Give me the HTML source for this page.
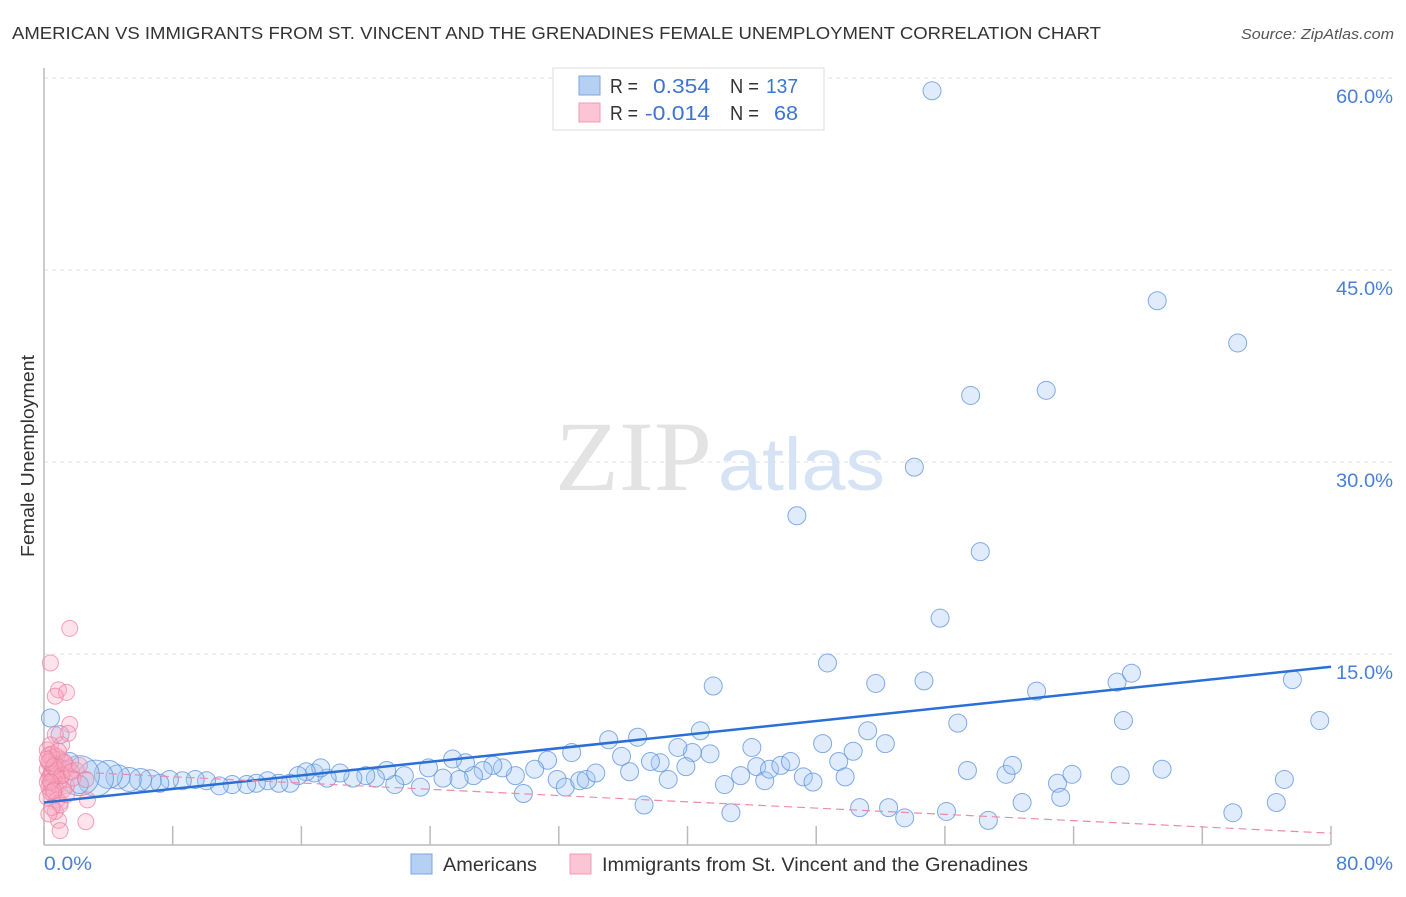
<!DOCTYPE html>
<html><head><meta charset="utf-8"><style>
body{margin:0;background:#fff;font-family:"Liberation Sans",sans-serif;}
</style></head><body>
<svg width="1406" height="892" viewBox="0 0 1406 892" xmlns="http://www.w3.org/2000/svg">
<text x="12" y="39" font-size="17.5" fill="#333" textLength="1089" lengthAdjust="spacingAndGlyphs">AMERICAN VS IMMIGRANTS FROM ST. VINCENT AND THE GRENADINES FEMALE UNEMPLOYMENT CORRELATION CHART</text>
<text x="1241" y="39" font-size="15" fill="#555" font-style="italic" textLength="153" lengthAdjust="spacingAndGlyphs">Source: ZipAtlas.com</text>
<g id="grid"></g>
<g>
<text x="555" y="490" font-size="100" fill="#e3e3e3" font-family="Liberation Serif" textLength="157" lengthAdjust="spacingAndGlyphs">ZIP</text>
<text x="718" y="490" font-size="74" fill="#d5e3f5" textLength="167" lengthAdjust="spacingAndGlyphs">atlas</text>
</g>
<line x1="44" y1="68" x2="44" y2="845" stroke="#bbb" stroke-width="1.5"/>
<line x1="44" y1="845" x2="1330" y2="845" stroke="#bbb" stroke-width="1.5"/>
<g id="ticks"></g>
<g id="pts"></g>
<g id="lines"></g>
<text x="34" y="456" font-size="18" fill="#333" transform="rotate(-90 34 456)" text-anchor="middle" textLength="202" lengthAdjust="spacingAndGlyphs">Female Unemployment</text>
<text x="44" y="870" font-size="19" fill="#4a7fd6" textLength="48" lengthAdjust="spacingAndGlyphs">0.0%</text>
<text x="1336" y="870" font-size="19" fill="#4a7fd6" textLength="57" lengthAdjust="spacingAndGlyphs">80.0%</text>
<g>
<rect x="553" y="68" width="271" height="62" fill="#fff" stroke="#ddd"/>
<rect x="579" y="76" width="21" height="19" fill="#b5d0f3" stroke="#7aa6e3"/>
<rect x="579" y="103" width="21" height="19" fill="#fbc5d5" stroke="#f09ab3"/>
<text x="610" y="93" font-size="20" fill="#333" textLength="28" lengthAdjust="spacingAndGlyphs">R =</text>
<text x="653" y="93" font-size="20" fill="#3a74d4" textLength="57" lengthAdjust="spacingAndGlyphs">0.354</text>
<text x="730" y="93" font-size="20" fill="#333" textLength="29" lengthAdjust="spacingAndGlyphs">N =</text>
<text x="766" y="93" font-size="20" fill="#3a74d4" textLength="32" lengthAdjust="spacingAndGlyphs">137</text>
<text x="610" y="120" font-size="20" fill="#333" textLength="28" lengthAdjust="spacingAndGlyphs">R =</text>
<text x="645" y="120" font-size="20" fill="#3a74d4" textLength="65" lengthAdjust="spacingAndGlyphs">-0.014</text>
<text x="730" y="120" font-size="20" fill="#333" textLength="29" lengthAdjust="spacingAndGlyphs">N =</text>
<text x="774" y="120" font-size="20" fill="#3a74d4" textLength="24" lengthAdjust="spacingAndGlyphs">68</text>
</g>
<g>
<rect x="411" y="854" width="21" height="20" fill="#b5d0f3" stroke="#7aa6e3"/>
<text x="443" y="871" font-size="19" fill="#333" textLength="94" lengthAdjust="spacingAndGlyphs">Americans</text>
<rect x="570" y="854" width="21" height="20" fill="#fbc5d5" stroke="#f09ab3"/>
<text x="602" y="871" font-size="19" fill="#333" textLength="426" lengthAdjust="spacingAndGlyphs">Immigrants from St. Vincent and the Grenadines</text>
</g>
</svg>
<script>
const yTicks=[15,30,45,60];
const yTickLabels=["15.0%","30.0%","45.0%","60.0%"];
const xTicks=[0,8,16,24,32,40,48,56,64,72,80];
const blueX=[55.2,69.2,74.2,57.6,62.3,54.1,46.8,58.2,55.7,48.7,41.6,51.7,54.7,61.7,66.7,67.6,77.6,79.3,67.1,56.8,51.2,52.3,48.4,50.3,49.4,49.8,44.0,40.8,41.4,40.3,39.4,39.9,38.3,37.7,38.8,36.9,35.1,35.9,36.4,37.3,32.8,31.3,30.5,31.9,32.4,33.3,33.7,34.3,29.8,29.3,28.5,27.9,27.3,26.7,25.8,26.2,25.4,24.8,23.9,23.4,22.4,21.8,21.3,20.6,20.0,19.2,18.4,17.6,16.8,17.2,16.3,15.8,15.3,14.6,13.9,13.2,12.6,11.7,10.9,10.1,9.4,8.6,7.8,7.2,6.6,6.0,5.3,4.6,4.0,3.2,2.2,1.6,1.0,0.4,0.7,2.2,42.3,42.7,43.3,44.3,44.8,45.1,45.8,46.4,47.2,47.8,50.7,52.5,53.5,56.1,57.4,58.7,59.8,60.2,60.8,63.0,63.2,63.9,66.9,69.5,73.9,77.1,76.6];
const blueY=[59.0,42.6,39.3,35.2,35.6,29.6,25.8,23.0,17.8,14.3,12.5,12.7,12.9,12.1,12.8,13.5,13.0,9.8,9.8,9.6,9.0,8.0,8.0,7.4,6.6,5.4,7.7,9.0,7.2,7.3,7.7,6.2,6.5,6.6,5.2,8.5,8.3,7.0,5.8,3.2,7.3,6.7,6.0,5.2,4.6,5.1,5.2,5.7,4.1,5.5,6.1,6.3,5.9,5.5,5.2,6.5,6.8,5.3,6.1,4.6,5.5,4.8,5.9,5.3,5.5,5.3,5.7,5.3,5.7,6.1,5.8,5.5,4.9,4.9,5.1,4.9,4.8,4.8,4.7,5.1,5.2,5.1,5.2,4.9,5.1,5.2,5.2,5.4,5.6,5.3,5.5,6.6,8.7,10.0,6.3,4.8,4.8,2.6,5.5,6.2,5.1,6.0,6.3,6.6,5.4,5.0,3.0,3.0,2.2,2.7,5.9,2.0,5.6,6.3,3.4,4.9,3.8,5.6,5.5,6.0,2.6,5.2,3.4];
const blueBig={89:18,90:20,88:14,87:12,86:12,85:11,84:11};
const pinkX=[1.6,0.4,0.9,1.4,0.7,1.6,1.5,0.7,1.1,0.4,0.2,0.5,0.8,1.0,1.2,0.3,0.6,0.9,1.3,0.2,0.5,0.7,1.1,0.4,0.8,0.3,0.6,1.0,0.2,0.5,0.9,1.4,0.3,0.7,1.2,0.4,0.6,0.2,0.8,1.0,0.5,0.3,0.7,1.5,2.0,1.8,2.7,2.6,0.9,1.0,0.7,1.0,1.4,2.6,0.5,0.3,0.8,0.6,1.1,0.4,0.2,0.9,1.3,0.6,0.5,0.3,1.7,2.2];
const pinkY=[17.0,14.3,12.2,12.0,11.7,9.5,8.8,8.7,7.9,7.9,7.5,7.2,7.0,6.8,6.6,6.5,6.3,6.2,6.0,6.0,5.8,5.7,5.6,5.5,5.4,5.3,5.2,5.1,5.0,4.9,4.8,4.7,4.6,4.5,4.4,4.2,4.0,3.8,3.6,3.4,6.9,7.1,6.4,6.1,5.9,5.3,3.6,1.9,2.0,1.2,2.7,3.2,4.0,5.2,5.6,6.6,5.9,6.2,5.5,5.0,6.8,7.4,6.5,4.3,3.0,2.5,5.8,6.3];
const blueTrend=[3.4,14.0];
const pinkTrend=[5.9,1.0];
const NS="http://www.w3.org/2000/svg";
const xs=v=>44+v/80*1287, ys=v=>846-v*12.8;
const mk=(t,a,p)=>{const e=document.createElementNS(NS,t);for(const k in a)e.setAttribute(k,a[k]);p.appendChild(e);return e;};
const grid=document.getElementById('grid');
yTicks.forEach((t,i)=>{
 const l=mk('line',{x1:44,x2:1394,y1:ys(t),y2:ys(t),stroke:'#e2e2e2','stroke-dasharray':'4 4'},grid);
 
 
 const tx=mk('text',{x:1336,y:ys(t)+25,'font-size':19,fill:'#4a7fd6',textLength:57,lengthAdjust:'spacingAndGlyphs'},grid);
 tx.textContent=yTickLabels[i];
 
 
});
const tk=document.getElementById('ticks');
xTicks.forEach(t=>{
 const l=mk('line',{x1:xs(t),x2:xs(t),y1:826,y2:845,stroke:'#bbb','stroke-width':1.5},tk);
 
 
});
const pts=document.getElementById('pts');
blueX.forEach((x,i)=>{
 const c=mk('circle',{cx:xs(x),cy:ys(blueY[i]),r:blueBig[i]||9,fill:'rgba(160,198,244,0.33)',stroke:'rgba(90,145,220,0.75)','stroke-width':1},pts);
 
 
});
pinkX.forEach((x,i)=>{
 const c=mk('circle',{cx:xs(x),cy:ys(pinkY[i]),r:8,fill:'rgba(248,170,195,0.33)',stroke:'rgba(236,125,160,0.7)','stroke-width':1},pts);
 
 
});
const ln=document.getElementById('lines');
const b=mk('line',{x1:xs(0),y1:ys(blueTrend[0]),x2:xs(80),y2:ys(blueTrend[1]),stroke:'#2a6fd6','stroke-width':2.5},ln);


const p=mk('line',{x1:xs(0),y1:ys(pinkTrend[0]),x2:xs(80),y2:ys(pinkTrend[1]),stroke:'#ee8aa9','stroke-width':1.2,'stroke-dasharray':'8 5'},ln);


</script>
</body></html>
